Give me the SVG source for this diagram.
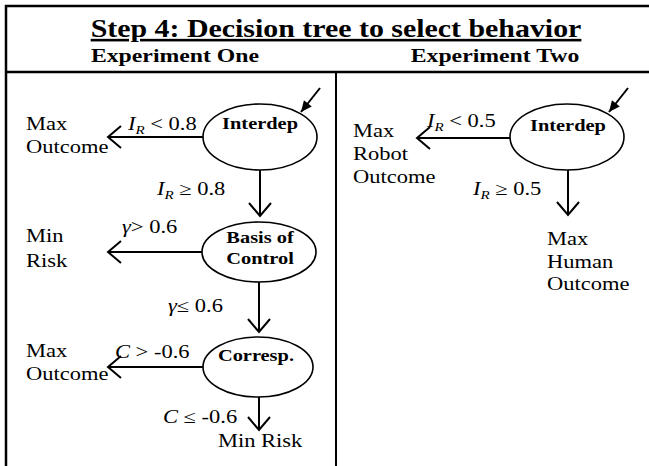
<svg xmlns="http://www.w3.org/2000/svg" width="649" height="466" viewBox="0 0 649 466">
<style>
.t{font-family:"Liberation Serif","Times New Roman",serif;fill:#000}
.body{font-size:18px}
.nl{font-size:17px;font-weight:bold;text-anchor:middle}
.it{font-style:italic}
.sub{font-size:12px}
.frame{stroke:#000;stroke-width:2.5;fill:none}
.node{fill:#fff;stroke:#000;stroke-width:1.6}
.edge{stroke:#000;stroke-width:2;fill:none}
.open{marker-end:url(#open)}
.solid{marker-end:url(#solid)}
</style>
<defs>
<marker id="open" markerUnits="userSpaceOnUse" viewBox="-15 -13 17 26" refX="0" refY="0" markerWidth="17" markerHeight="26" orient="auto">
<path d="M-13,-11 L0,0 L-13,11" fill="none" stroke="#000" stroke-width="2"/>
</marker>
<marker id="solid" markerUnits="userSpaceOnUse" viewBox="-12 -6 13 12" refX="0" refY="0" markerWidth="13" markerHeight="12" orient="auto">
<path d="M-11,-5 L0,0 L-11,5 Z" fill="#000"/>
</marker>
</defs>
<rect width="649" height="466" fill="#fff"/>
<g id="frame">
<path class="frame" d="M6,466 L6,6 L649,6"/>
<path class="frame" d="M6,72 L649,72"/>
<path class="frame" d="M336,72 L336,466" style="stroke-width:2"/>
</g>
<g id="header">
<text class="t" transform="scale(1.15 1)" x="292.2" y="37" font-size="26" font-weight="bold" text-anchor="middle" text-decoration="underline">Step 4: Decision tree to select behavior</text>
<text class="t" transform="scale(1.25 1)" x="140" y="62" font-size="19" font-weight="bold" text-anchor="middle">Experiment One</text>
<text class="t" transform="scale(1.25 1)" x="396" y="62" font-size="19" font-weight="bold" text-anchor="middle">Experiment Two</text>
</g>
<g id="connectors">
<path class="edge solid" d="M320,88 L301,112"/>
<path class="edge open" d="M203,137 L108,137"/>
<path class="edge open" d="M260,170 L260,216"/>
<path class="edge open" d="M202,252 L108,252"/>
<path class="edge open" d="M259,282 L259,332"/>
<path class="edge open" d="M203,367 L108,367"/>
<path class="edge open" d="M259,397 L259,430"/>
<path class="edge solid" d="M628,88 L609,112"/>
<path class="edge open" d="M510,138 L417,138"/>
<path class="edge open" d="M568,170 L568,215"/>
</g>
<g id="node-interdep-1">
<ellipse class="node" cx="260" cy="137" rx="57" ry="33"/>
<text class="t nl" transform="scale(1.2 1)" x="216.7" y="129">Interdep</text>
</g>
<g id="node-basis">
<ellipse class="node" cx="259" cy="252" rx="57" ry="30"/>
<text class="t nl" transform="scale(1.2 1)" x="216.7" y="243">Basis of</text>
<text class="t nl" transform="scale(1.2 1)" x="216.7" y="264">Control</text>
</g>
<g id="node-corresp">
<ellipse class="node" cx="258" cy="367" rx="55" ry="30"/>
<text class="t nl" transform="scale(1.2 1)" x="213.3" y="361">Corresp.</text>
</g>
<g id="node-interdep-2">
<ellipse class="node" cx="567" cy="137" rx="57" ry="33"/>
<text class="t nl" transform="scale(1.2 1)" x="473.3" y="131">Interdep</text>
</g>
<g id="outcomes">
<text class="t body" transform="scale(1.25 1)" x="20.8" y="130">Max</text>
<text class="t body" transform="scale(1.25 1)" x="20.8" y="153">Outcome</text>
<text class="t body" transform="scale(1.25 1)" x="20.8" y="242">Min</text>
<text class="t body" transform="scale(1.25 1)" x="20.8" y="267">Risk</text>
<text class="t body" transform="scale(1.25 1)" x="20.8" y="357">Max</text>
<text class="t body" transform="scale(1.25 1)" x="20.8" y="380">Outcome</text>
<text class="t body" transform="scale(1.25 1)" x="174.4" y="447">Min Risk</text>
<text class="t body" transform="scale(1.25 1)" x="282.4" y="137">Max</text>
<text class="t body" transform="scale(1.25 1)" x="282.4" y="160">Robot</text>
<text class="t body" transform="scale(1.25 1)" x="282.4" y="183">Outcome</text>
<text class="t body" transform="scale(1.25 1)" x="437.6" y="245">Max</text>
<text class="t body" transform="scale(1.25 1)" x="437.6" y="268">Human</text>
<text class="t body" transform="scale(1.25 1)" x="437.6" y="290">Outcome</text>
</g>
<g id="conditions">
<text class="t body" transform="scale(1.25 1)" x="102.4" y="130"><tspan class="it">I</tspan><tspan class="it sub" dy="4">R</tspan><tspan dy="-4"> &lt; 0.8</tspan></text>
<text class="t body" transform="scale(1.25 1)" x="125.6" y="195"><tspan class="it">I</tspan><tspan class="it sub" dy="4">R</tspan><tspan dy="-4"> ≥ 0.8</tspan></text>
<text class="t body" transform="scale(1.25 1)" x="97.6" y="233"><tspan class="it">γ</tspan><tspan>&gt; 0.6</tspan></text>
<text class="t body" transform="scale(1.25 1)" x="134.4" y="312"><tspan class="it">γ</tspan><tspan>≤ 0.6</tspan></text>
<text class="t body" transform="scale(1.25 1)" x="92" y="358"><tspan class="it">C</tspan><tspan> &gt; -0.6</tspan></text>
<text class="t body" transform="scale(1.25 1)" x="130.4" y="423"><tspan class="it">C</tspan><tspan> ≤ -0.6</tspan></text>
<text class="t body" transform="scale(1.25 1)" x="341.6" y="127"><tspan class="it">I</tspan><tspan class="it sub" dy="4">R</tspan><tspan dy="-4"> &lt; 0.5</tspan></text>
<text class="t body" transform="scale(1.25 1)" x="378.4" y="195"><tspan class="it">I</tspan><tspan class="it sub" dy="4">R</tspan><tspan dy="-4"> ≥ 0.5</tspan></text>
</g>
</svg>
